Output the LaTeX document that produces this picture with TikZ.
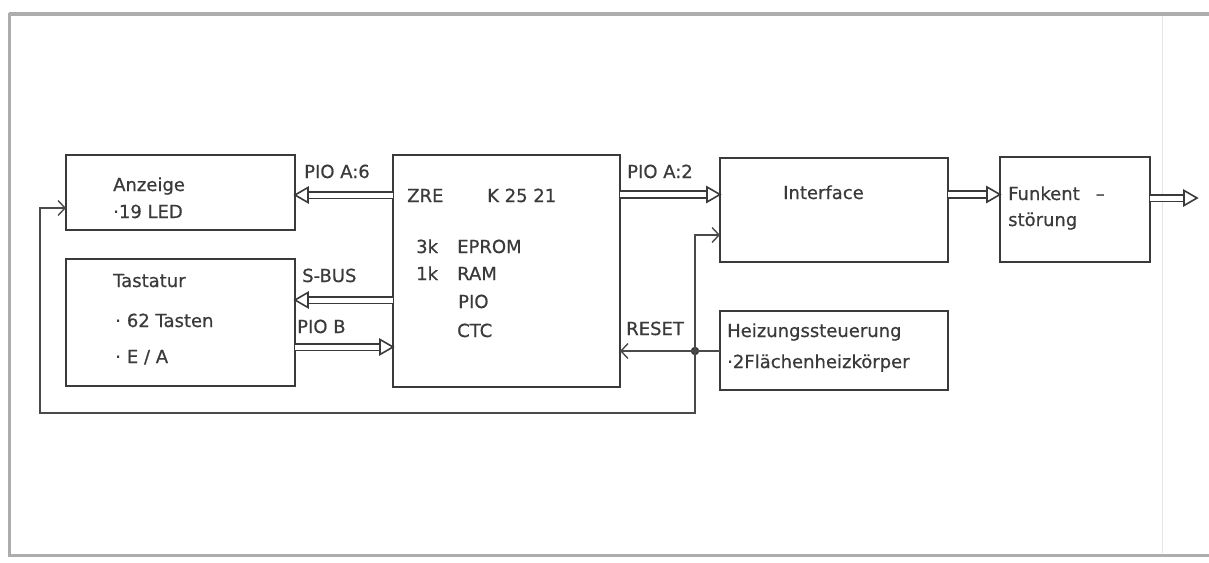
\documentclass[tikz,border=0pt]{standalone}
\usepackage{fontspec}
\setmainfont{DejaVu Sans}
\newfontfamily\lettering{DejaVu Sans}[FakeBold=0.6]
\usetikzlibrary{arrows.meta,calc}
\definecolor{ink}{HTML}{3A3A3A}
\definecolor{wire}{HTML}{4A4A4A}
\definecolor{framec}{HTML}{ADADAD}
\definecolor{faint}{HTML}{E4E4E4}
\tikzset{
  box/.style={draw=ink, line width=2.8pt, inner sep=0pt, outer sep=0pt, anchor=north west},
  lbl/.style={anchor=base west, inner sep=0pt, text=ink, font=\lettering\fontsize{18}{20}\selectfont},
  busline/.style={draw=ink, double=white, double distance=5pt, line width=1.9pt},
  bustip/.style={draw=ink, fill=white, line width=1.6pt, line join=miter},
  sig/.style={draw=wire, line width=1.4pt},
  chev/.style={-{Straight Barb[length=7pt,width=15pt,line width=1.4pt]}},
  jdot/.style={circle, fill=ink, inner sep=0pt, minimum size=8.5pt}
}
\newcommand\busarrow[2]{%
  \draw[busline, shorten >=11pt] (#1) -- (#2);
  \coordinate (bt) at (#2);
  \coordinate (bs) at (#1);
  \coordinate (bb) at ($(bt)!13pt!(bs)$);
  \draw[bustip] (bt) -- ($(bb)!7.5pt!90:(bt)$) -- ($(bb)!7.5pt!-90:(bt)$) -- cycle;}
\begin{document}
\begin{tikzpicture}[x=1pt,y=-1pt]
\useasboundingbox (0,0) rectangle (1209,562);
% frame
\draw[framec, line width=4pt] (9,14) -- (1209,14);
\draw[framec, line width=3pt] (9,13) -- (9,555);
\draw[framec, line width=3pt] (8,555) -- (1209,555);
\draw[faint, line width=1pt] (1162,16) -- (1162,553);

% boxes
\node[box, minimum width=229pt, minimum height=75pt] (anz) at (66,155) {};
\node[box, minimum width=229pt, minimum height=127pt] (tast) at (66,259) {};
\node[box, minimum width=227pt, minimum height=232pt] (zre) at (393,155) {};
\node[box, minimum width=228pt, minimum height=104pt] (intf) at (720,158) {};
\node[box, minimum width=228pt, minimum height=79pt] (heiz) at (720,311) {};
\node[box, minimum width=150pt, minimum height=105pt] (funk) at (1000,157) {};

% helper coordinates
\coordinate (ya) at (0,195);
\coordinate (yb) at (0,300);
\coordinate (yc) at (0,347);
\coordinate (yd) at (0,194.5);
\coordinate (ye) at (0,198);
\coordinate (yf) at (0,235);
\coordinate (yg) at (0,413);
\coordinate (yh) at (0,208);
\coordinate (out) at (1197,198);
\coordinate (xl) at (40,0);
\node[jdot] (j) at (695,351) {};

% bus connectors
\busarrow{zre.west |- ya}{anz.east |- ya}
\busarrow{zre.west |- yb}{tast.east |- yb}
\busarrow{tast.east |- yc}{zre.west |- yc}
\busarrow{zre.east |- yd}{intf.west |- yd}
\busarrow{intf.east |- yd}{funk.west |- yd}
\busarrow{funk.east |- ye}{out}

% signal connectors
\draw[sig, chev] (heiz.west |- j) -- (zre.east |- j);
\draw[sig, chev] (j.center) -- (j |- yf) -- (intf.west |- yf);
\coordinate (c1) at (j |- yg);
\coordinate (c2) at (xl |- yg);
\coordinate (c3) at (xl |- yh);
\draw[sig, chev] (j.center) -- (c1) -- (c2) -- (c3) -- (anz.west |- yh);

% texts
\node[lbl] (t1) at (113,191) {Anzeige};
\node[lbl] (t2) at (113,218) {·19 LED};
\node[lbl] (t3) at (113,287) {Tastatur};
\node[lbl] (t4) at (115,327) {·\,\,62 Tasten};
\node[lbl] (t5) at (115,363) {·\,\,E / A};
\node[lbl] (t6) at (304,178) {PIO A:6};
\node[lbl] (t7) at (302,282) {S-BUS};
\node[lbl] (t8) at (297,333) {PIO B};
\node[lbl] (t9) at (407,202) {ZRE};
\node[lbl] (t10) at (487,202) {K 25 21};
\node[lbl] (t11) at (416,253) {3k};
\node[lbl] (t12) at (457,253) {EPROM};
\node[lbl] (t13) at (416,280) {1k};
\node[lbl] (t14) at (457,280) {RAM};
\node[lbl] (t15) at (458,308) {PIO};
\node[lbl] (t16) at (457,337) {CTC};
\node[lbl] (t17) at (627,178) {PIO A:2};
\node[lbl] (t18) at (626,335) {RESET};
\node[lbl] (t19) at (783,199) {Interface};
\node[lbl] (t20) at (1008,200) {Funkent\hspace{16pt}–};
\node[lbl] (t21) at (1008,226) {störung};
\node[lbl] (t22) at (727,337) {Heizungssteuerung};
\node[lbl] (t23) at (727,368) {·2Flächenheizkörper};
\end{tikzpicture}
\end{document}
